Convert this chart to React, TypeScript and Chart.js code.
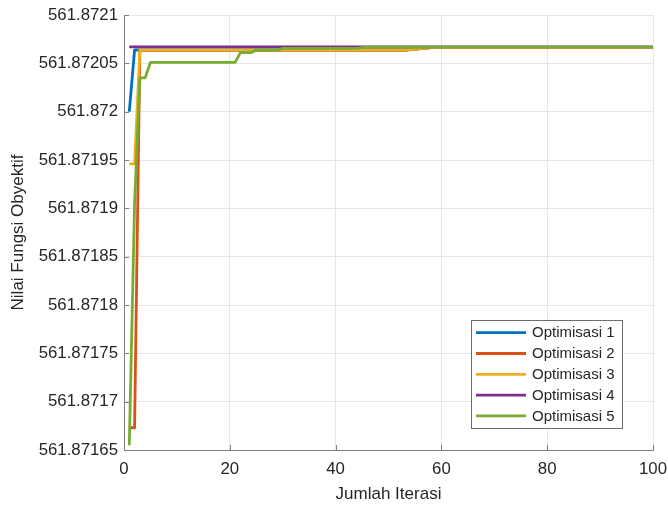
import React, { useEffect, useRef } from "react";
import { Chart, registerables } from "chart.js";

Chart.register(...registerables);

const seriesNames = ["Optimisasi 1", "Optimisasi 2", "Optimisasi 3", "Optimisasi 4", "Optimisasi 5"];
const seriesColors = ["#0072BD", "#D95319", "#EDB120", "#7E2F8E", "#77AC30"];

// iteration / value pairs (change points of each run)
const opt1X = [1, 2, 53, 58, 100];
const opt1Y = [561.872, 561.8720638, 561.8720638, 561.8720662, 561.8720662];

const opt2X = [1, 2, 3, 53, 58, 100];
const opt2Y = [561.871673, 561.871673, 561.8720635, 561.8720635, 561.8720662, 561.8720662];

const opt3X = [1, 2, 3, 53, 58, 100];
const opt3Y = [561.871946, 561.871946, 561.8720638, 561.8720638, 561.8720662, 561.8720662];

const opt4X = [1, 100];
const opt4Y = [561.872067, 561.872067];

const opt5X = [1, 2, 3, 4, 5, 21, 22, 24, 25, 29, 30, 44, 46, 100];
const opt5Y = [
  561.871655, 561.871905, 561.872035, 561.872035, 561.872051, 561.872051, 561.872061,
  561.872061, 561.8720638, 561.8720638, 561.8720655, 561.8720655, 561.8720668, 561.8720668,
];

const yTickValues = [
  561.87165, 561.8717, 561.87175, 561.8718, 561.87185, 561.8719, 561.87195, 561.872, 561.87205, 561.8721,
];
const xTickValues = [0, 20, 40, 60, 80, 100];

const xTitle = "Jumlah Iterasi";
const yTitle = "Nilai Fungsi Obyektif";

const FONT = "'Liberation Sans', Arial, Helvetica, sans-serif";
const TEXT = "#262626";
const AXIS = "#808080";
const GRID = "#e6e6e6";

export default function App() {
  const ref = useRef<HTMLCanvasElement | null>(null);

  useEffect(() => {
    if (!ref.current) return;
    const xs = [opt1X, opt2X, opt3X, opt4X, opt5X];
    const ys = [opt1Y, opt2Y, opt3Y, opt4Y, opt5Y];

    const datasets = seriesNames.map((name, i) => ({
      label: name,
      data: xs[i].map((x, j) => ({ x, y: ys[i][j] })),
      borderColor: seriesColors[i],
      backgroundColor: seriesColors[i],
      borderWidth: 2.8,
      pointRadius: 0,
      tension: 0,
      fill: false,
      borderJoinStyle: "round" as const,
      order: 5 - i,
    }));

    const innerTicks = {
      id: "innerTicks",
      beforeDatasetsDraw(chart: any) {
        const { ctx, chartArea } = chart;
        const xs = chart.scales.x;
        const ysc = chart.scales.y;
        ctx.save();
        ctx.strokeStyle = AXIS;
        ctx.lineWidth = 1;
        ctx.beginPath();
        for (const v of xTickValues) {
          const px = Math.round(xs.getPixelForValue(v)) + 0.5;
          ctx.moveTo(px, chartArea.bottom);
          ctx.lineTo(px, chartArea.bottom - 5);
        }
        for (const v of yTickValues) {
          const py = Math.round(ysc.getPixelForValue(v)) + 0.5;
          ctx.moveTo(chartArea.left, py);
          ctx.lineTo(chartArea.left + 5, py);
        }
        ctx.stroke();
        ctx.restore();
      },
    };

    const boxLegend = {
      id: "boxLegend",
      afterDraw(chart: any) {
        const { ctx, chartArea } = chart;
        const right = chartArea.right - 31;
        const bottom = chartArea.bottom - 22;
        const w = 151;
        const h = 108;
        const left = right - w;
        const top = bottom - h;
        ctx.save();
        ctx.fillStyle = "#ffffff";
        ctx.fillRect(left, top, w, h);
        ctx.strokeStyle = "#6e6e6e";
        ctx.lineWidth = 1;
        ctx.strokeRect(Math.round(left) + 0.5, Math.round(top) + 0.5, w, h);
        ctx.font = `15px ${FONT}`;
        ctx.textBaseline = "middle";
        ctx.textAlign = "left";
        seriesNames.forEach((name, i) => {
          const y = top + 12.7 + i * 20.8;
          ctx.strokeStyle = seriesColors[i];
          ctx.lineWidth = 2.8;
          ctx.beginPath();
          ctx.moveTo(left + 5, y);
          ctx.lineTo(left + 55, y);
          ctx.stroke();
          ctx.fillStyle = TEXT;
          ctx.fillText(name, left + 61, y + 0.5);
        });
        ctx.restore();
      },
    };

    const chart = new Chart(ref.current, {
      type: "line",
      data: { datasets },
      plugins: [innerTicks, boxLegend],
      options: {
        responsive: false,
        animation: false,
        maintainAspectRatio: false,
        layout: { padding: { top: 15, right: 15, left: 0, bottom: 0 } },
        plugins: {
          legend: { display: false },
          tooltip: { enabled: false },
        },
        scales: {
          x: {
            type: "linear",
            min: 0,
            max: 100,
            afterFit(scale: any) {
              scale.height = 56;
              scale.paddingLeft = 0;
              scale.paddingRight = 0;
            },
            afterBuildTicks(scale: any) {
              scale.ticks = xTickValues.map((v) => ({ value: v }));
            },
            grid: { color: GRID, lineWidth: 1, drawTicks: false },
            border: { color: AXIS, width: 1 },
            ticks: {
              color: TEXT,
              padding: 9,
              maxRotation: 0,
              font: { family: FONT, size: 16.8 },
              callback: (v: any) => String(v),
            },
            title: {
              display: true,
              text: xTitle,
              color: TEXT,
              font: { family: FONT, size: 17 },
              padding: { top: 4, bottom: 1 },
            },
          },
          y: {
            type: "linear",
            min: 561.87165,
            max: 561.8721,
            afterFit(scale: any) {
              scale.width = 124;
              scale.paddingTop = 0;
              scale.paddingBottom = 0;
            },
            afterBuildTicks(scale: any) {
              scale.ticks = yTickValues.map((v) => ({ value: v }));
            },
            grid: { color: GRID, lineWidth: 1, drawTicks: false },
            border: { color: AXIS, width: 1 },
            ticks: {
              color: TEXT,
              padding: 6,
              font: { family: FONT, size: 16.8 },
              callback: (v: any) => String(parseFloat(Number(v).toFixed(5))),
            },
            title: {
              display: true,
              text: yTitle,
              color: TEXT,
              font: { family: FONT, size: 17 },
              padding: { top: 8, bottom: 4 },
            },
          },
        },
      },
    });
    return () => chart.destroy();
  }, []);

  return (
    <div style={{ position: "fixed", left: 0, top: 0, width: 668, height: 506, background: "#fff" }}>
      <canvas ref={ref} width={668} height={506} style={{ display: "block", width: 668, height: 506 }} />
    </div>
  );
}
